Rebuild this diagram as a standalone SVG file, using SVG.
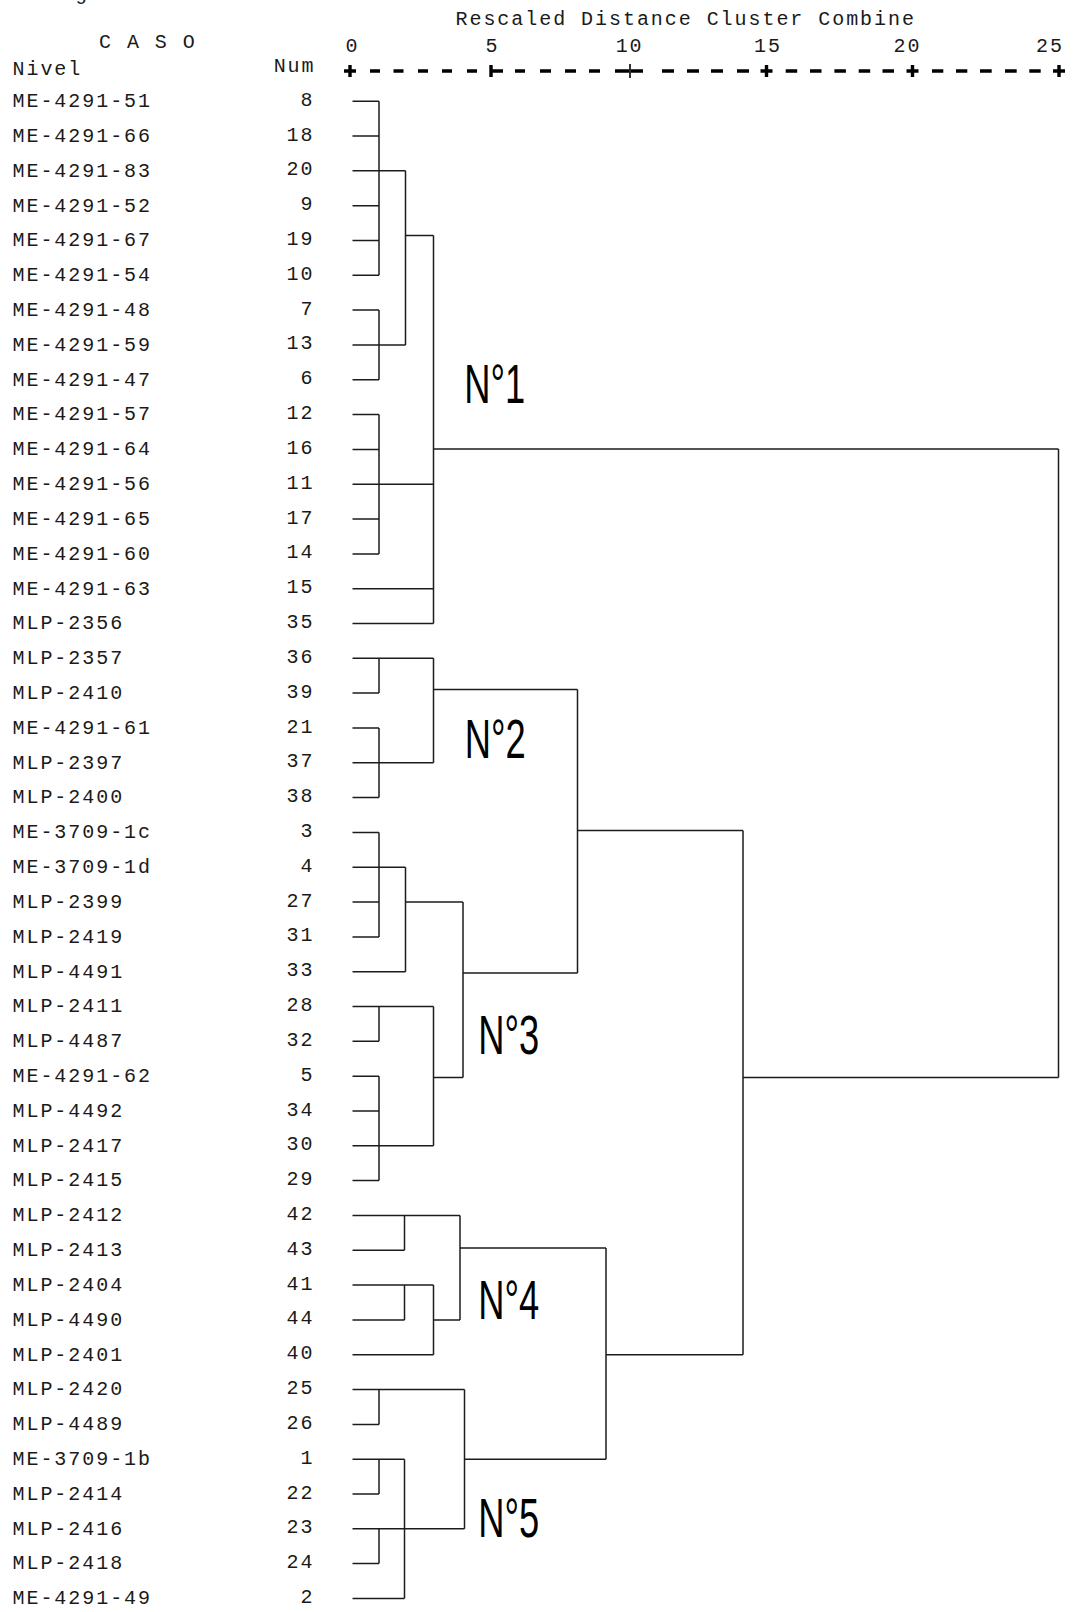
<svg xmlns="http://www.w3.org/2000/svg" width="1073" height="1612" viewBox="0 0 1073 1612">
<style>
.t{font-family:"Liberation Mono","Courier New",monospace;font-size:20px;letter-spacing:1.95px;fill:#1a1a1a}
.e{text-anchor:end}
.m{text-anchor:middle}
.c{font-family:"Liberation Sans",Arial,sans-serif;font-size:55px;fill:#000}
.ln{stroke:#1c1c1c;stroke-width:1.5;fill:none}
.ax{stroke:#000;stroke-width:3.4;fill:none}
.tk{stroke:#000;stroke-width:1.6;fill:none}
</style>
<rect width="1073" height="1612" fill="#fff"/>
<g id="header">
<text class="t" x="75" y="0">g</text>
<text class="t" x="455.5" y="24.5">Rescaled Distance Cluster Combine</text>
<text class="t" x="99" y="48">C A S O</text>
<text class="t" x="12.5" y="74.5">Nivel</text>
<text class="t e" x="315.5" y="71.5">Num</text>
<text class="t m" x="352.6" y="51.5">0</text>
<text class="t m" x="492.6" y="51.5">5</text>
<text class="t m" x="629.6" y="51.5">10</text>
<text class="t m" x="767.9" y="51.5">15</text>
<text class="t m" x="907.4" y="51.5">20</text>
<text class="t m" x="1049.9" y="51.5">25</text>
</g>
<g id="axis">
<path class="ax" d="M344 71H356M350 65V77M760.5 71H772.5M766.5 65V77M906.5 71H918.5M912.5 65V77M1053 71H1065M1059 65V77M491 65V77M491 71H503"/>
<path class="tk" d="M630 64V78"/>
<path class="ax" d="M370 71H380M393.5 71H403.5M418 71H428M442 71H452M467 71H477M515 71H525M540 71H551M565 71H576M589 71H600M615 71H629.2M630.8 71H643M662 71H674M687 71H699M711 71H723M737 71H749M785.7 71H797.2M810 71H821.5M834.4 71H845.9M858.7 71H870.2M882.5 71H894M932 71H943.3M956 71H967.3M980 71H991.7M1005 71H1016.7M1029.3 71H1040.7"/>
</g>
<g id="nodes">
<g id="n8"><text class="t" x="12.5" y="107">ME-4291-51</text><text class="t e" x="314.5" y="105.7">8</text></g>
<g id="n18"><text class="t" x="12.5" y="141.8">ME-4291-66</text><text class="t e" x="314.5" y="140.5">18</text></g>
<g id="n20"><text class="t" x="12.5" y="176.6">ME-4291-83</text><text class="t e" x="314.5" y="175.3">20</text></g>
<g id="n9"><text class="t" x="12.5" y="211.5">ME-4291-52</text><text class="t e" x="314.5" y="210.2">9</text></g>
<g id="n19"><text class="t" x="12.5" y="246.3">ME-4291-67</text><text class="t e" x="314.5" y="245">19</text></g>
<g id="n10"><text class="t" x="12.5" y="281.1">ME-4291-54</text><text class="t e" x="314.5" y="279.8">10</text></g>
<g id="n7"><text class="t" x="12.5" y="315.9">ME-4291-48</text><text class="t e" x="314.5" y="314.6">7</text></g>
<g id="n13"><text class="t" x="12.5" y="350.7">ME-4291-59</text><text class="t e" x="314.5" y="349.4">13</text></g>
<g id="n6"><text class="t" x="12.5" y="385.6">ME-4291-47</text><text class="t e" x="314.5" y="384.3">6</text></g>
<g id="n12"><text class="t" x="12.5" y="420.4">ME-4291-57</text><text class="t e" x="314.5" y="419.1">12</text></g>
<g id="n16"><text class="t" x="12.5" y="455.2">ME-4291-64</text><text class="t e" x="314.5" y="453.9">16</text></g>
<g id="n11"><text class="t" x="12.5" y="490">ME-4291-56</text><text class="t e" x="314.5" y="488.7">11</text></g>
<g id="n17"><text class="t" x="12.5" y="524.8">ME-4291-65</text><text class="t e" x="314.5" y="523.5">17</text></g>
<g id="n14"><text class="t" x="12.5" y="559.7">ME-4291-60</text><text class="t e" x="314.5" y="558.4">14</text></g>
<g id="n15"><text class="t" x="12.5" y="594.5">ME-4291-63</text><text class="t e" x="314.5" y="593.2">15</text></g>
<g id="n35"><text class="t" x="12.5" y="629.3">MLP-2356</text><text class="t e" x="314.5" y="628">35</text></g>
<g id="n36"><text class="t" x="12.5" y="664.1">MLP-2357</text><text class="t e" x="314.5" y="662.8">36</text></g>
<g id="n39"><text class="t" x="12.5" y="698.9">MLP-2410</text><text class="t e" x="314.5" y="697.6">39</text></g>
<g id="n21"><text class="t" x="12.5" y="733.8">ME-4291-61</text><text class="t e" x="314.5" y="732.5">21</text></g>
<g id="n37"><text class="t" x="12.5" y="768.6">MLP-2397</text><text class="t e" x="314.5" y="767.3">37</text></g>
<g id="n38"><text class="t" x="12.5" y="803.4">MLP-2400</text><text class="t e" x="314.5" y="802.1">38</text></g>
<g id="n3"><text class="t" x="12.5" y="838.2">ME-3709-1c</text><text class="t e" x="314.5" y="836.9">3</text></g>
<g id="n4"><text class="t" x="12.5" y="873">ME-3709-1d</text><text class="t e" x="314.5" y="871.7">4</text></g>
<g id="n27"><text class="t" x="12.5" y="907.9">MLP-2399</text><text class="t e" x="314.5" y="906.6">27</text></g>
<g id="n31"><text class="t" x="12.5" y="942.7">MLP-2419</text><text class="t e" x="314.5" y="941.4">31</text></g>
<g id="n33"><text class="t" x="12.5" y="977.5">MLP-4491</text><text class="t e" x="314.5" y="976.2">33</text></g>
<g id="n28"><text class="t" x="12.5" y="1012.3">MLP-2411</text><text class="t e" x="314.5" y="1011">28</text></g>
<g id="n32"><text class="t" x="12.5" y="1047.1">MLP-4487</text><text class="t e" x="314.5" y="1045.8">32</text></g>
<g id="n5"><text class="t" x="12.5" y="1082">ME-4291-62</text><text class="t e" x="314.5" y="1080.7">5</text></g>
<g id="n34"><text class="t" x="12.5" y="1116.8">MLP-4492</text><text class="t e" x="314.5" y="1115.5">34</text></g>
<g id="n30"><text class="t" x="12.5" y="1151.6">MLP-2417</text><text class="t e" x="314.5" y="1150.3">30</text></g>
<g id="n29"><text class="t" x="12.5" y="1186.4">MLP-2415</text><text class="t e" x="314.5" y="1185.1">29</text></g>
<g id="n42"><text class="t" x="12.5" y="1221.2">MLP-2412</text><text class="t e" x="314.5" y="1219.9">42</text></g>
<g id="n43"><text class="t" x="12.5" y="1256.1">MLP-2413</text><text class="t e" x="314.5" y="1254.8">43</text></g>
<g id="n41"><text class="t" x="12.5" y="1290.9">MLP-2404</text><text class="t e" x="314.5" y="1289.6">41</text></g>
<g id="n44"><text class="t" x="12.5" y="1325.7">MLP-4490</text><text class="t e" x="314.5" y="1324.4">44</text></g>
<g id="n40"><text class="t" x="12.5" y="1360.5">MLP-2401</text><text class="t e" x="314.5" y="1359.2">40</text></g>
<g id="n25"><text class="t" x="12.5" y="1395.3">MLP-2420</text><text class="t e" x="314.5" y="1394">25</text></g>
<g id="n26"><text class="t" x="12.5" y="1430.2">MLP-4489</text><text class="t e" x="314.5" y="1428.9">26</text></g>
<g id="n1"><text class="t" x="12.5" y="1465">ME-3709-1b</text><text class="t e" x="314.5" y="1463.7">1</text></g>
<g id="n22"><text class="t" x="12.5" y="1499.8">MLP-2414</text><text class="t e" x="314.5" y="1498.5">22</text></g>
<g id="n23"><text class="t" x="12.5" y="1534.6">MLP-2416</text><text class="t e" x="314.5" y="1533.3">23</text></g>
<g id="n24"><text class="t" x="12.5" y="1569.4">MLP-2418</text><text class="t e" x="314.5" y="1568.1">24</text></g>
<g id="n2"><text class="t" x="12.5" y="1604.2">ME-4291-49</text><text class="t e" x="314.5" y="1603">2</text></g>
</g>
<g id="connectors">
<path class="ln" d="M352.5 101.2H379M352.5 136H379M352.5 170.8H405.5M352.5 205.7H379M352.5 240.5H379M352.5 275.3H379M379 101.2V275.3"/>
<path class="ln" d="M352.5 310.1H379M352.5 344.9H405.5M352.5 379.8H379M379 310.1V379.8"/>
<path class="ln" d="M405.5 170.8V344.9M405.5 235.4H433.5"/>
<path class="ln" d="M352.5 414.6H379M352.5 449.4H379M352.5 484.2H433.5M352.5 519H379M352.5 553.9H379M379 414.6V553.9"/>
<path class="ln" d="M352.5 588.7H433.5M352.5 623.5H433.5M433.5 235.4V623.5M433.5 449H1058.5"/>
<path class="ln" d="M352.5 658.3H433.5M352.5 693.1H379M379 658.3V693.1M352.5 728H379M352.5 762.8H433.5M352.5 797.6H379M379 728V797.6M433.5 658.3V762.8M433.5 689.5H577.5"/>
<path class="ln" d="M352.5 832.4H379M352.5 867.2H405.5M352.5 902.1H379M352.5 936.9H379M379 832.4V936.9M352.5 971.7H405.5M405.5 867.2V971.7M405.5 902.1H463"/>
<path class="ln" d="M352.5 1006.5H433.5M352.5 1041.3H379M379 1006.5V1041.3M352.5 1076.2H379M352.5 1111H379M352.5 1145.8H433.5M352.5 1180.6H379M379 1076.2V1180.6M433.5 1006.5V1145.8M433.5 1077.5H463"/>
<path class="ln" d="M463 902.1V1077.5M463 973H577.5M577.5 689.5V973M577.5 830.5H743"/>
<path class="ln" d="M352.5 1215.4H460M352.5 1250.3H404.5M404.5 1215.4V1250.3M352.5 1285.1H433.5M352.5 1319.9H404.5M404.5 1285.1V1319.9M352.5 1354.7H433.5M433.5 1285.1V1354.7M433.5 1319.9H460M460 1215.4V1319.9M460 1248H606"/>
<path class="ln" d="M352.5 1389.5H464.5M352.5 1424.4H379M379 1389.5V1424.4M352.5 1459.2H404.5M352.5 1494H379M379 1459.2V1494M352.5 1528.8H464.5M352.5 1563.6H379M379 1528.8V1563.6M352.5 1598.5H404.5M404.5 1459.2V1598.5M464.5 1389.5V1528.8M464.5 1459.2H606"/>
<path class="ln" d="M606 1248V1459.2M606 1354.7H743M743 830.5V1354.7M743 1077.5H1058.5M1058.5 449V1077.5"/>
</g>
<g id="cluster-labels">
<text class="c" transform="translate(464.2,403) scale(0.66,1)">N°1</text>
<text class="c" transform="translate(464.7,758) scale(0.66,1)">N°2</text>
<text class="c" transform="translate(478.2,1054) scale(0.66,1)">N°3</text>
<text class="c" transform="translate(478.2,1318.5) scale(0.66,1)">N°4</text>
<text class="c" transform="translate(478.2,1537) scale(0.66,1)">N°5</text>
</g>
</svg>
